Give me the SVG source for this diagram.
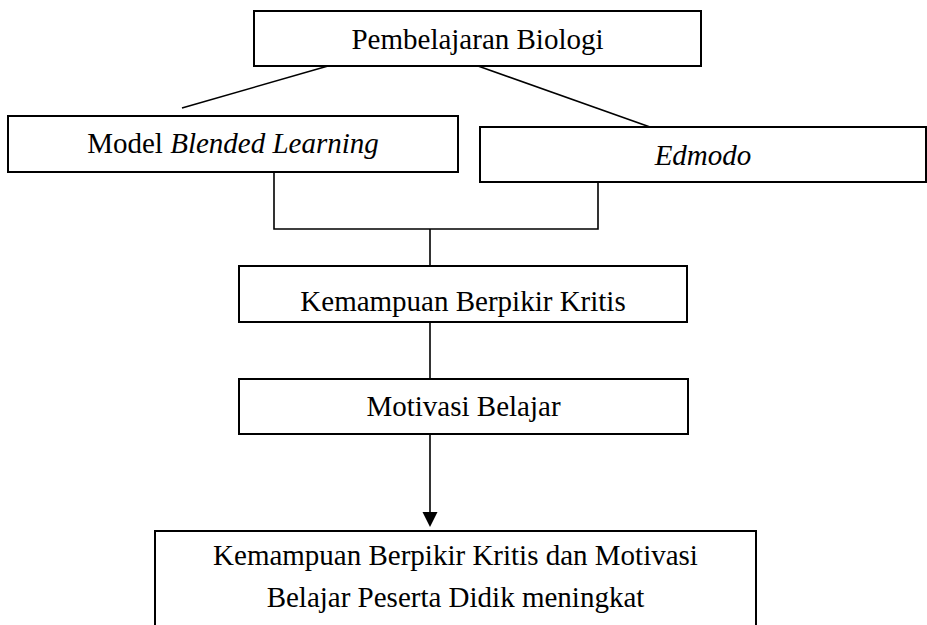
<svg xmlns="http://www.w3.org/2000/svg" width="927" height="625" viewBox="0 0 927 625">
<style>
.box{fill:#fff;stroke:#000;stroke-width:2}
.t{font-family:"Liberation Serif","Times New Roman",serif;font-size:29px;fill:#000;text-anchor:middle}
.it{font-style:italic}
.ln{fill:none;stroke:#000;stroke-width:1.6}
</style>
<rect width="927" height="625" fill="#fff"/>
<g id="connectors">
<line class="ln" x1="328" y1="66" x2="182" y2="108"/>
<line class="ln" x1="478" y1="66" x2="650" y2="127"/>
<polyline class="ln" points="274,172 274,229 598,229 598,183"/>
<line class="ln" x1="430" y1="229" x2="430" y2="266"/>
<line class="ln" x1="430" y1="322" x2="430" y2="379"/>
<line class="ln" x1="430" y1="434" x2="430" y2="514"/>
<polygon points="422.5,512 437.5,512 430,527" fill="#000"/>
</g>
<g id="node-pembelajaran">
<rect class="box" x="254" y="11" width="447" height="55"/>
<text class="t" x="477.5" y="49">Pembelajaran Biologi</text>
</g>
<g id="node-model">
<rect class="box" x="8" y="116" width="450" height="56"/>
<text class="t" x="233" y="153">Model <tspan class="it">Blended Learning</tspan></text>
</g>
<g id="node-edmodo">
<rect class="box" x="480" y="127" width="446" height="55"/>
<text class="t it" x="703" y="165">Edmodo</text>
</g>
<g id="node-kemampuan">
<rect class="box" x="239" y="266" width="448" height="56"/>
<text class="t" x="463" y="311">Kemampuan Berpikir Kritis</text>
</g>
<g id="node-motivasi">
<rect class="box" x="239" y="379" width="449" height="55"/>
<text class="t" x="463.5" y="416">Motivasi Belajar</text>
</g>
<g id="node-hasil">
<rect class="box" x="155" y="531" width="601" height="110"/>
<text class="t" x="455.5" y="565">Kemampuan Berpikir Kritis dan Motivasi</text>
<text class="t" x="455.5" y="607">Belajar Peserta Didik meningkat</text>
</g>
</svg>
